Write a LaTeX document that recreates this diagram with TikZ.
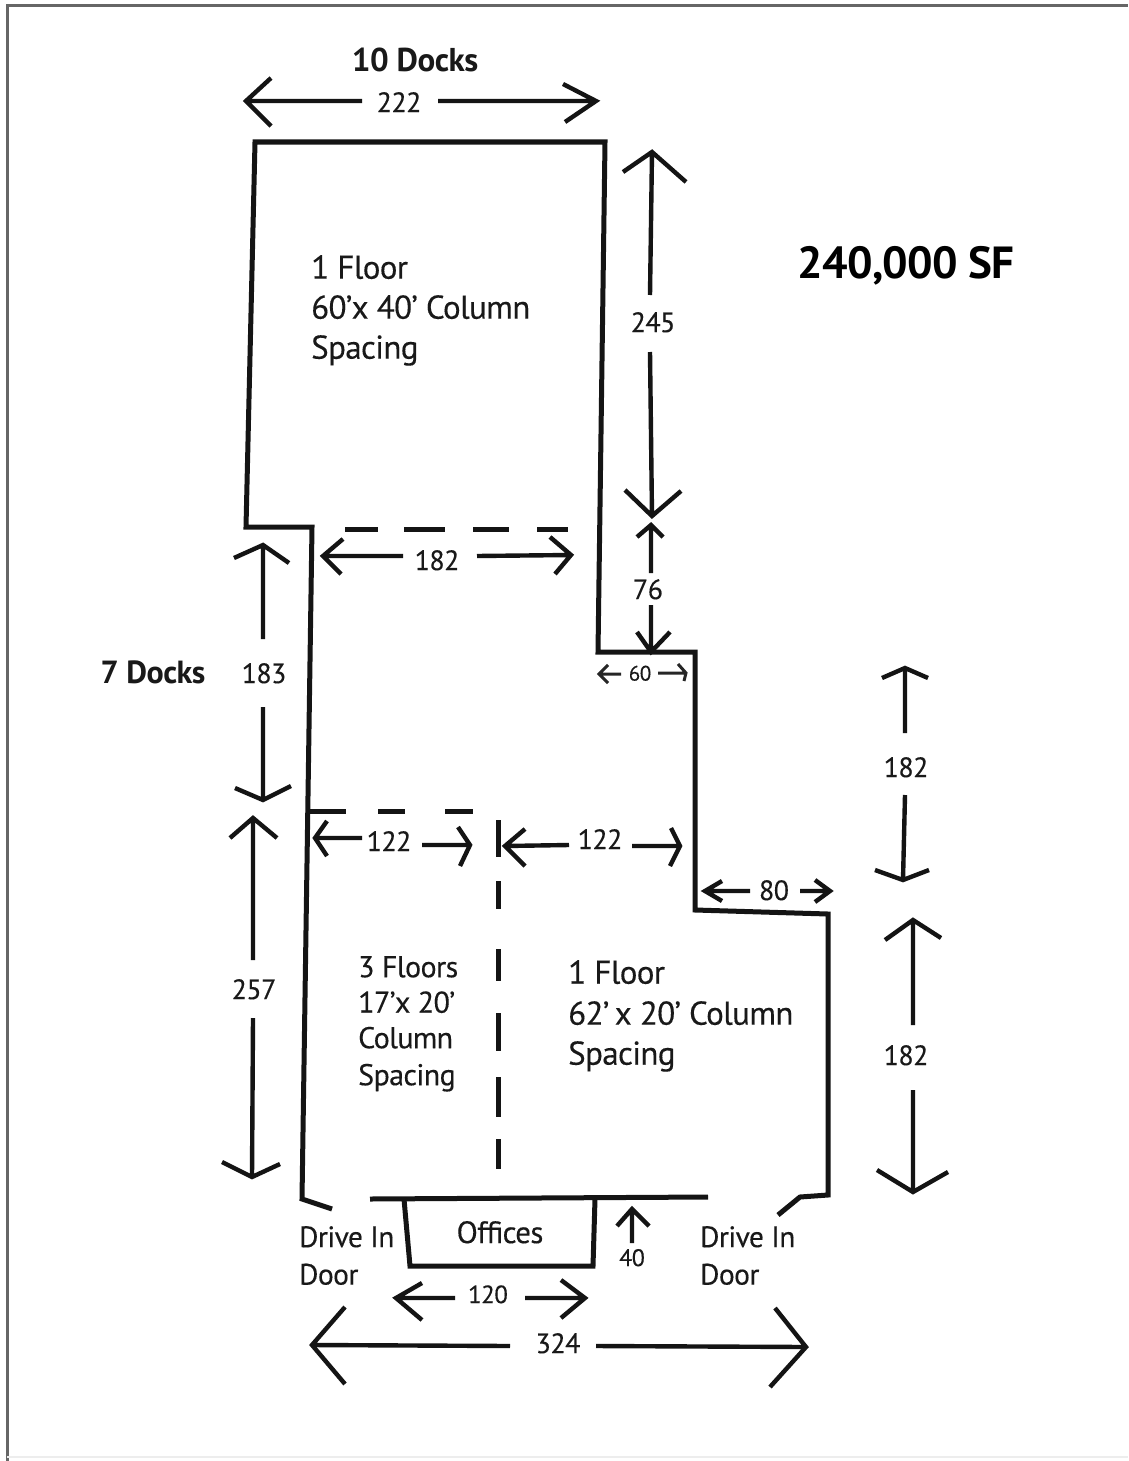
\documentclass[tikz,border=0pt]{standalone}
\usepackage{fontspec}
\setmainfont[LetterSpace=-2,FakeBold=0.25,BoldFeatures={LetterSpace=-1.5,FakeBold=0}]{PT Sans}
\newcommand{\fs}[1]{\fontsize{#1}{#1}\selectfont}
\newcommand{\pr}{\symbol{39}}
\tikzset{
  wall/.style={line width=5pt,line join=miter,black!92},
  arr/.style={line width=4.4pt,line join=miter,black!92},
  thinarr/.style={line width=3pt,line join=miter,black!85},
  dashw/.style={line width=5pt,black!92},
  lab/.style={inner sep=0pt,text height=.7em,text depth=0pt,text=black!90,font=\fs{28},yshift=-6.6pt},
  big/.style={inner sep=0pt,anchor=north west,align=left,text=black!90},
}
% \Ar{tail}{tip}{wing1}{wing2}
\newcommand{\Ar}[5][arr]{\draw[#1] #2 -- #3 #4 -- #3 -- #5;}
\begin{document}
\begin{tikzpicture}[x=1pt,y=-1pt]
\useasboundingbox (0,0) rectangle (1128,1461);
\fill[white] (0,0) rectangle (1128,1461);
\draw[black!60,line width=3pt] (7,1461) -- (7,5.5) -- (1128,5.5);
\draw[black!7,line width=1.5pt] (7,1457) -- (1128,1457);

% outline
\draw[wall] (332,1209) -- (302,1199) -- (312,527) -- (246,527) -- (255,142) -- (605,142) -- (598,652) -- (695,652) -- (695,910) -- (828,914) -- (828,1195) -- (800,1197) -- (778,1215);
\draw[wall] (370,1199) -- (708,1197);
\draw[wall] (404,1199) -- (410,1266) -- (593,1266) -- (595,1199);

% dashed internal walls
\foreach \a/\b in {345/378,404/445,473/509,537/568}{\draw[dashw] (\a,529) -- (\b,529);}
\foreach \a/\b in {310/346,378/405,445/473}{\draw[dashw] (\a,811) -- (\b,811);}
\foreach \a/\b in {820/857,881/909,949/981,1013/1051,1077/1117,1139/1169}{\draw[dashw] (498.5,\a) -- (498.5,\b);}

% dimension labels
\node[lab] (d222) at (399,102) {222};
\node[lab] (d245) at (653,322) {245};
\node[lab] (d76) at (648,589) {76};
\node[lab,font=\fs{21},yshift=2.5pt] (d60) at (640,673) {60};
\node[lab] (d182a) at (437,560) {182};
\node[lab] (d183) at (264,673) {183};
\node[lab] (d257) at (254,989) {257};
\node[lab] (d122a) at (389,841) {122};
\node[lab] (d122b) at (600,839) {122};
\node[lab] (d80) at (774,890) {80};
\node[lab] (d182b) at (906,767) {182};
\node[lab] (d182c) at (906,1055) {182};
\node[lab] (d324) at (558,1343) {324};
\node[lab,font=\fs{25}] (d120) at (488,1293) {120};
\node[lab,font=\fs{24}] (d40) at (632,1256) {40};

% dimension arrows
\Ar{(362,101)}{(246,101)}{(271,78)}{(271,126)}
\Ar{(438,101)}{(596,101)}{(563,84)}{(565,122)}
\Ar{(650,295)}{(652,152)}{(623,172)}{(686,182)}
\Ar{(650,352)}{(652,516)}{(625,490)}{(681,491)}
\Ar{(651,573)}{(651,525)}{(637,537)}{(663,537)}
\Ar{(651,605)}{(651,652)}{(637,632)}{(670,632)}
\Ar[thinarr]{(621,674)}{(599,674)}{(608,665)}{(608,683)}
\Ar[thinarr]{(658,673)}{(686,673)}{(678,664)}{(684,681)}
\Ar{(403,556)}{(323,556)}{(343,539)}{(341,574)}
\Ar{(477,556)}{(571,555)}{(550,537)}{(555,574)}
\Ar{(263,639)}{(263,545)}{(234,558)}{(289,563)}
\Ar{(263,707)}{(263,800)}{(235,788)}{(291,786)}
\Ar{(253,960)}{(253,818)}{(230,838)}{(277,838)}
\Ar{(253,1018)}{(252,1177)}{(222,1162)}{(280,1164)}
\Ar{(362,838)}{(315,838)}{(327,821)}{(327,856)}
\Ar{(422,845)}{(470,845)}{(458,827)}{(460,866)}
\Ar{(569,845)}{(505,846)}{(525,829)}{(525,866)}
\Ar{(632,846)}{(680,846)}{(671,828)}{(670,866)}
\Ar{(750,891)}{(705,891)}{(722,881)}{(722,901)}
\Ar{(800,891)}{(830,891)}{(815,880)}{(815,902)}
\Ar{(905,733)}{(905,668)}{(882,678)}{(928,678)}
\Ar{(905,795)}{(903,880)}{(875,870)}{(929,870)}
\Ar{(913,1025)}{(913,920)}{(885,940)}{(941,938)}
\Ar{(913,1090)}{(913,1192)}{(877,1170)}{(948,1172)}
\Ar{(510,1346)}{(312,1345)}{(345,1307)}{(345,1384)}
\Ar{(596,1346)}{(806,1347)}{(775,1308)}{(770,1387)}
\Ar{(455,1298)}{(396,1298)}{(422,1283)}{(422,1320)}
\Ar{(525,1298)}{(585,1298)}{(561,1280)}{(561,1318)}
\Ar{(632,1243)}{(632,1209)}{(617,1226)}{(649,1226)}

% text
\node[lab,font=\bfseries\fs{33},yshift=-1pt] (docksa) at (415,60) {10 Docks};
\node[lab,font=\bfseries\fs{32},yshift=-1pt] (docksb) at (153,672) {7 Docks};
\node[lab,font=\bfseries\fs{45},text=black,yshift=-4.5pt] (area) at (906,264) {240,000 SF};
\node[big,font=\fs{33}] (t1) at (311,255) {1 Floor\\[7pt]60\pr x 40\pr\ Column\\[7pt]Spacing};
\node[big,font=\fs{30}] (t2) at (358,956) {3 Floors\\[5.5pt]17\pr x 20\pr\\[5.5pt]Column\\[7pt]Spacing};
\node[big,font=\fs{33}] (t3) at (568,960) {1 Floor\\[8pt]62\pr\,x 20\pr\ Column\\[7pt]Spacing};
\node[big,font=\fs{29.5}] (dl) at (299,1226) {Drive In\\[8pt]Door};
\node[big,font=\fs{29.5}] (dr) at (700,1226) {Drive In\\[8pt]Door};
\node[lab,font=\fs{31},yshift=-1pt] (off) at (500,1232) {Offices};
\end{tikzpicture}
\end{document}
